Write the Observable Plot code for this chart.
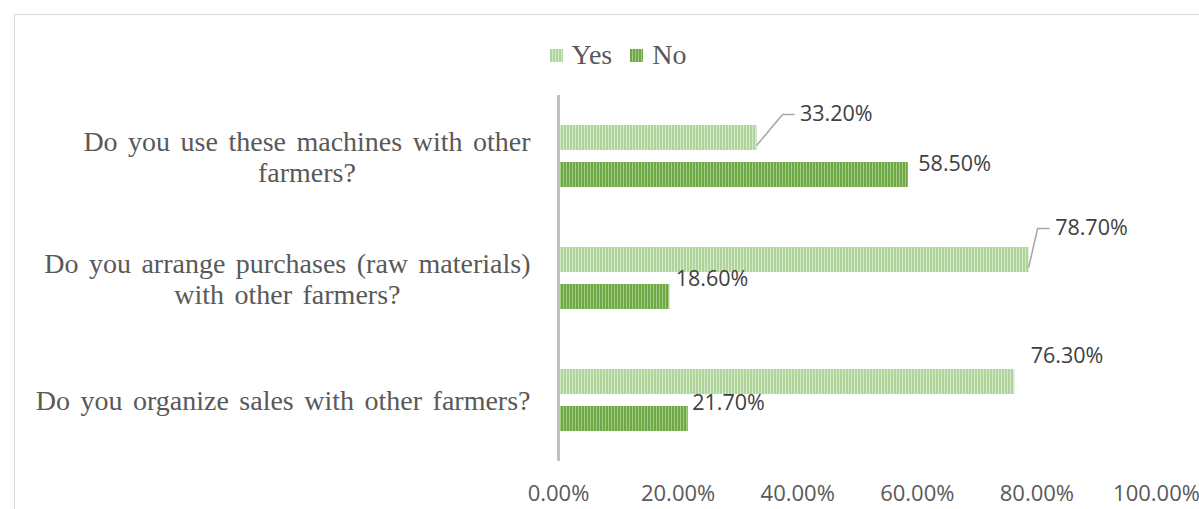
<!DOCTYPE html>
<html>
<head>
<meta charset="utf-8">
<script src="https://cdn.jsdelivr.net/npm/d3@7"></script>
<script src="https://cdn.jsdelivr.net/npm/@observablehq/plot@0.6"></script>
<style>
  html, body { margin: 0; padding: 0; background: #fff; width: 1199px; height: 509px; overflow: hidden; }
  #frame { position: absolute; left: 14px; top: 14px; width: 1300px; height: 600px; border: 1px solid #d9d9d9; box-sizing: border-box; }
  #legend { position: absolute; top: 39px; left: 0; width: 1236px; display: flex; justify-content: center; align-items: center; font-family: "Liberation Serif", serif; font-size: 28px; color: #595959; }
  #legend .item { display: flex; align-items: center; margin: 0 9px; }
  #legend svg { margin-right: 9px; }
  #chart { position: absolute; left: 0; top: 85px; }
  #chart svg { background: transparent !important; }
  #chart g[font-family*="Serif"] text { word-spacing: 3.5px; }
</style>
</head>
<body>
<svg width="0" height="0" style="position:absolute">
  <defs>
    <pattern id="patYes" patternUnits="userSpaceOnUse" width="3" height="10">
      <rect width="3" height="10" fill="#d6e9c9"></rect>
      <rect width="2" height="10" fill="#afd49b"></rect>
    </pattern>
    <pattern id="patNo" patternUnits="userSpaceOnUse" width="3" height="10">
      <rect width="3" height="10" fill="#a2cc87"></rect>
      <rect width="2" height="10" fill="#6ea844"></rect>
    </pattern>
  </defs>
</svg>
<div id="frame"></div>
<div id="legend"></div>
<div id="chart"></div>
<script>
// ---- data ----
const categories = [
  "Do you use these machines with other farmers?",
  "Do you arrange purchases (raw materials) with other farmers?",
  "Do you organize sales with other farmers?"
];
const categoryLines = [
  ["Do you use these machines with other", "farmers?"],
  ["Do you arrange purchases (raw materials)", "with other farmers?"],
  ["Do you organize sales with other farmers?"]
];
const series = ["Yes", "No"];
const yesValues = [33.2, 78.7, 76.3];
const noValues = [58.5, 18.6, 21.7];
const tickValues = [0, 20, 40, 60, 80, 100];

// ---- label layout (pixel offsets from bar end) ----
const labelOffsets = {
  Yes: [[43, -24], [26, -32], [16, -26]],
  No: [[10, -11], [6, -18], [4, -16]]
};
const leaderLabels = [["Yes", 0], ["Yes", 1]];

const fills = { Yes: "url(#patYes)", No: "url(#patNo)" };
const sansFont = "'Open Sans', sans-serif";
const serifFont = "'Liberation Serif', serif";

const rows = [];
categories.forEach((c, i) => {
  rows.push({ cat: c, series: "Yes", value: yesValues[i], i });
  rows.push({ cat: c, series: "No", value: noValues[i], i });
});

// legend
const legend = document.getElementById("legend");
series.forEach(s => {
  const item = document.createElement("div");
  item.className = "item";
  item.innerHTML = `<svg width="13" height="13"><rect width="13" height="13" fill="${fills[s]}"></rect></svg><span>${s}</span>`;
  legend.appendChild(item);
});

// measure category label widths to right-align the block and center lines within it
const ctx = document.createElement("canvas").getContext("2d");
const catFontSize = 28;
const wordSpacing = 3.5;
ctx.font = `${catFontSize}px "Liberation Serif"`;
const lineWidth = l => ctx.measureText(l).width + (l.split(" ").length - 1) * wordSpacing;
const rightEdge = -28; // relative to plot left edge

const catMarks = categoryLines.map((lines, i) => {
  const w = Math.max(...lines.map(lineWidth));
  return Plot.text([{ cat: categories[i], label: lines.join("\n") }], {
    fy: "cat",
    text: "label",
    frameAnchor: "left",
    textAnchor: "middle",
    dx: rightEdge - w / 2,
    lineHeight: 1.1,
    fontSize: catFontSize,
    fontFamily: serifFont,
    fill: "#595959"
  });
});

const valueMarks = rows.map(d => Plot.text([d], {
  fy: "cat",
  y: "series",
  x: "value",
  text: r => r.value.toFixed(2) + "%",
  textAnchor: "start",
  dx: labelOffsets[d.series][d.i][0],
  dy: labelOffsets[d.series][d.i][1],
  fontSize: 21.5,
  fontFamily: sansFont,
  fill: "#404040"
}));

const leaderData = leaderLabels.map(([s, i]) => rows.find(r => r.series === s && r.i === i));
const leaderMark = Plot.dot(leaderData, {
  fy: "cat",
  y: "series",
  x: "value",
  render: (index, scales, values, dims, context) => {
    const g = d3.create("svg:g");
    for (const k of index) {
      const d = leaderData[k];
      const x0 = scales.x(d.value);
      const yc = scales.y(d.series) + scales.y.bandwidth() / 2;
      const [dx, dy] = labelOffsets[d.series][d.i];
      const x1 = x0 + Math.min(dx - 17, 26);
      const y1 = yc + dy + 1;
      g.append("path")
        .attr("d", `M${x0},${yc + 8}L${x1},${y1}L${x0 + dx - 5},${y1}`)
        .attr("fill", "none")
        .attr("stroke", "#a6a6a6")
        .attr("stroke-width", 1.5);
    }
    return g.node();
  }
});

const chart = Plot.plot({
  width: 1199,
  height: 424,
  marginLeft: 558,
  marginRight: 43,
  marginTop: 9,
  marginBottom: 48,
  style: { background: "transparent", fontFamily: sansFont },
  x: {
    domain: [0, 100],
    ticks: tickValues,
    tickFormat: d => d.toFixed(2) + "%",
    tickSize: 0,
    tickPadding: 24,
    label: null
  },
  fy: { domain: categories, padding: 0, axis: null, label: null },
  y: { domain: series, paddingInner: 0.316, paddingOuter: 0.767, axis: null, label: null },
  marks: [
    Plot.barX(rows, {
      fy: "cat",
      y: "series",
      x: "value",
      fill: d => fills[d.series]
    }),
    Plot.ruleX([0], { stroke: "#bfbfbf", strokeWidth: 3 }),
    Plot.axisX({
      ticks: tickValues,
      tickFormat: d => d.toFixed(2) + "%",
      tickSize: 0,
      tickPadding: 24,
      fontSize: 22,
      fontFamily: sansFont,
      fill: "#595959",
      label: null
    }),
    leaderMark,
    ...valueMarks,
    ...catMarks
  ]
});
document.getElementById("chart").appendChild(chart);
</script>
</body>
</html>
